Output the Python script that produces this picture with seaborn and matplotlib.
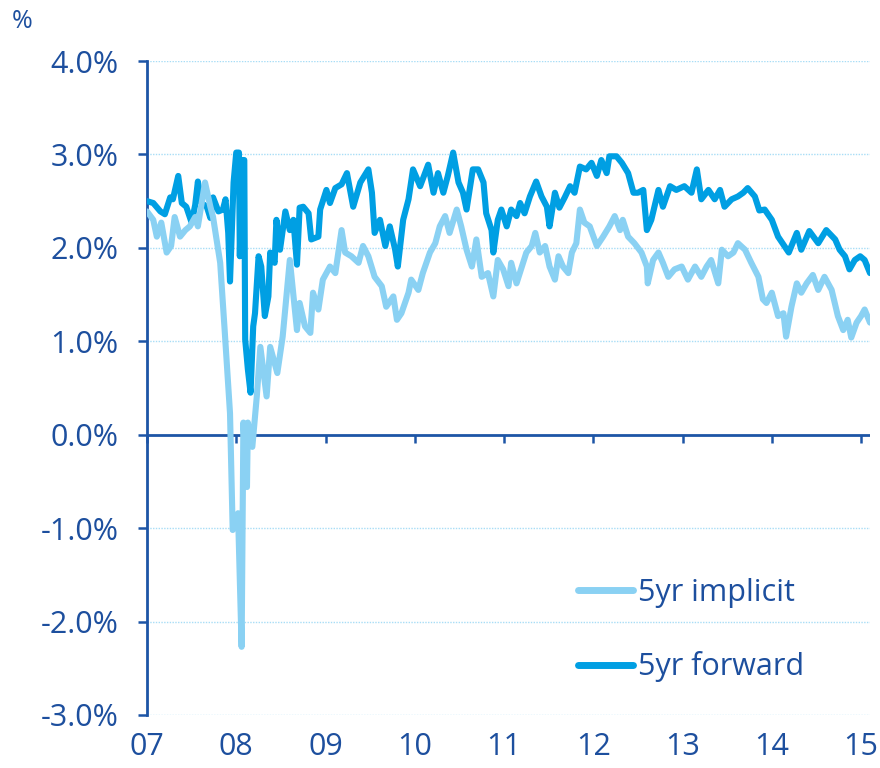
import matplotlib
matplotlib.use("Agg")
import matplotlib.pyplot as plt
import seaborn as sns
import pandas as pd

# ---- data (decimal years, percent) ----
fwd_t = [2007.00, 2007.07, 2007.15, 2007.20, 2007.26, 2007.29, 2007.35, 2007.39, 2007.44, 2007.50,
         2007.54, 2007.57, 2007.61, 2007.67, 2007.71, 2007.74, 2007.80, 2007.85, 2007.88, 2007.91,
         2007.93, 2007.97, 2008.00, 2008.03, 2008.04, 2008.06, 2008.09, 2008.10, 2008.13, 2008.16,
         2008.19, 2008.21, 2008.25, 2008.28, 2008.32, 2008.36, 2008.38, 2008.43, 2008.45, 2008.49,
         2008.55, 2008.60, 2008.64, 2008.68, 2008.71, 2008.75, 2008.81, 2008.84, 2008.92, 2008.94,
         2009.01, 2009.05, 2009.11, 2009.18, 2009.24, 2009.31, 2009.39, 2009.48, 2009.52, 2009.55,
         2009.61, 2009.67, 2009.72, 2009.78, 2009.81, 2009.87, 2009.93, 2009.98, 2010.06, 2010.15,
         2010.21, 2010.26, 2010.32, 2010.37, 2010.43, 2010.49, 2010.54, 2010.58, 2010.65, 2010.71,
         2010.77, 2010.80, 2010.86, 2010.88, 2010.93, 2010.97, 2011.03, 2011.08, 2011.14, 2011.18,
         2011.23, 2011.29, 2011.36, 2011.42, 2011.48, 2011.51, 2011.57, 2011.62, 2011.68, 2011.74,
         2011.79, 2011.85, 2011.92, 2011.98, 2012.04, 2012.09, 2012.15, 2012.18, 2012.26, 2012.32,
         2012.39, 2012.45, 2012.50, 2012.56, 2012.60, 2012.65, 2012.73, 2012.78, 2012.86, 2012.93,
         2013.02, 2013.10, 2013.16, 2013.21, 2013.29, 2013.36, 2013.42, 2013.47, 2013.55, 2013.62,
         2013.68, 2013.73, 2013.81, 2013.86, 2013.92, 2014.00, 2014.07, 2014.14, 2014.19, 2014.28,
         2014.33, 2014.42, 2014.52, 2014.61, 2014.71, 2014.76, 2014.82, 2014.87, 2014.93, 2014.99,
         2015.04, 2015.10]
fwd_v = [2.50, 2.48, 2.39, 2.36, 2.54, 2.52, 2.77, 2.48, 2.44, 2.27,
         2.46, 2.71, 2.48, 2.44, 2.32, 2.54, 2.39, 2.41, 2.52, 2.16,
         1.64, 2.70, 3.02, 3.02, 1.91, 2.94, 2.94, 1.02, 0.70, 0.45,
         1.16, 1.30, 1.91, 1.80, 1.27, 1.48, 1.95, 1.84, 2.30, 1.98,
         2.39, 2.19, 2.30, 1.82, 2.43, 2.44, 2.37, 2.09, 2.12, 2.41,
         2.62, 2.48, 2.64, 2.68, 2.80, 2.44, 2.70, 2.84, 2.59, 2.16,
         2.30, 2.02, 2.23, 1.98, 1.80, 2.30, 2.52, 2.84, 2.66, 2.89,
         2.59, 2.80, 2.59, 2.77, 3.02, 2.70, 2.59, 2.41, 2.84, 2.84,
         2.70, 2.37, 2.19, 1.95, 2.30, 2.41, 2.23, 2.41, 2.34, 2.48,
         2.37, 2.55, 2.71, 2.55, 2.44, 2.23, 2.59, 2.43, 2.54, 2.66,
         2.59, 2.87, 2.84, 2.91, 2.77, 2.94, 2.80, 2.98, 2.98, 2.91,
         2.80, 2.59, 2.59, 2.62, 2.19, 2.30, 2.62, 2.44, 2.66, 2.62,
         2.66, 2.59, 2.84, 2.52, 2.62, 2.52, 2.62, 2.44, 2.52, 2.55,
         2.59, 2.64, 2.55, 2.40, 2.41, 2.30, 2.12, 2.02, 1.95, 2.16,
         1.98, 2.18, 2.05, 2.19, 2.09, 1.98, 1.91, 1.77, 1.87, 1.91,
         1.87, 1.73]

imp_t = [2007.00, 2007.07, 2007.11, 2007.16, 2007.22, 2007.27, 2007.31, 2007.37, 2007.43, 2007.48,
         2007.54, 2007.57, 2007.65, 2007.71, 2007.74, 2007.82, 2007.87, 2007.93, 2007.96, 2008.02,
         2008.06, 2008.08, 2008.12, 2008.13, 2008.18, 2008.23, 2008.27, 2008.34, 2008.38, 2008.46,
         2008.52, 2008.60, 2008.68, 2008.71, 2008.77, 2008.83, 2008.86, 2008.92, 2008.97, 2009.05,
         2009.11, 2009.18, 2009.22, 2009.29, 2009.37, 2009.42, 2009.48, 2009.55, 2009.63, 2009.68,
         2009.76, 2009.80, 2009.85, 2009.93, 2009.96, 2010.04, 2010.09, 2010.17, 2010.23, 2010.28,
         2010.34, 2010.39, 2010.47, 2010.52, 2010.58, 2010.64, 2010.69, 2010.75, 2010.82, 2010.88,
         2010.93, 2010.99, 2011.05, 2011.08, 2011.14, 2011.20, 2011.25, 2011.31, 2011.35, 2011.40,
         2011.46, 2011.51, 2011.57, 2011.61, 2011.66, 2011.72, 2011.76, 2011.81, 2011.85, 2011.90,
         2011.96, 2012.04, 2012.11, 2012.18, 2012.24, 2012.30, 2012.33, 2012.39, 2012.46, 2012.54,
         2012.60, 2012.61, 2012.67, 2012.73, 2012.78, 2012.84, 2012.91, 2012.99, 2013.06, 2013.14,
         2013.21, 2013.27, 2013.32, 2013.40, 2013.44, 2013.51, 2013.57, 2013.62, 2013.70, 2013.77,
         2013.85, 2013.90, 2013.94, 2014.00, 2014.07, 2014.13, 2014.16, 2014.22, 2014.28, 2014.33,
         2014.39, 2014.46, 2014.52, 2014.59, 2014.67, 2014.74, 2014.80, 2014.85, 2014.89, 2014.95,
         2015.00, 2015.04, 2015.10]
imp_v = [2.39, 2.30, 2.12, 2.27, 1.95, 2.02, 2.33, 2.12, 2.19, 2.23,
         2.33, 2.23, 2.70, 2.44, 2.33, 1.84, 1.12, 0.23, -1.02, -0.84,
         -2.27, 0.13, -0.56, 0.13, -0.13, 0.41, 0.94, 0.41, 0.94, 0.66,
         1.05, 1.87, 1.12, 1.41, 1.16, 1.09, 1.52, 1.34, 1.66, 1.80,
         1.73, 2.19, 1.95, 1.91, 1.84, 2.02, 1.91, 1.69, 1.59, 1.37,
         1.48, 1.23, 1.30, 1.52, 1.66, 1.55, 1.73, 1.95, 2.05, 2.23,
         2.34, 2.16, 2.41, 2.23, 1.98, 1.80, 2.09, 1.69, 1.73, 1.48,
         1.87, 1.77, 1.59, 1.84, 1.62, 1.80, 1.95, 2.02, 2.16, 1.95,
         2.02, 1.80, 1.66, 1.91, 1.80, 1.73, 1.95, 2.05, 2.41, 2.27,
         2.23, 2.02, 2.12, 2.23, 2.34, 2.19, 2.30, 2.12, 2.05, 1.95,
         1.80, 1.62, 1.87, 1.95, 1.84, 1.69, 1.77, 1.80, 1.66, 1.80,
         1.69, 1.80, 1.87, 1.62, 1.98, 1.91, 1.95, 2.05, 1.98, 1.84,
         1.69, 1.45, 1.41, 1.52, 1.27, 1.30, 1.05, 1.37, 1.62, 1.52,
         1.62, 1.71, 1.55, 1.69, 1.55, 1.27, 1.12, 1.23, 1.04, 1.20,
         1.27, 1.34, 1.20]

years = [2007, 2008, 2009, 2010, 2011, 2012, 2013, 2014, 2015]
year_labels = ["07", "08", "09", "10", "11", "12", "13", "14", "15"]
y_ticks = [-3, -2, -1, 0, 1, 2, 3, 4]
series_names = ["5yr implicit", "5yr forward"]

# ---- style ----
sns.set_theme(style="white")
plt.rcParams["font.family"] = ["Open Sans", "DejaVu Sans"]
plt.rcParams["axes.unicode_minus"] = False

TEXT = "#1D4F9E"
AXIS = "#1D55A6"
DARK = "#009FE3"
LIGHT = "#8AD1F3"
GRID = "#A8DDF6"

fig = plt.figure(figsize=(8.8, 7.68), dpi=100)
ax = fig.add_axes([147 / 880, 1 - 715 / 768, (870 - 147) / 880, (715 - 61) / 768])

df_fwd = pd.DataFrame({"t": fwd_t, "v": fwd_v})
df_imp = pd.DataFrame({"t": imp_t, "v": imp_v})

# grid lines (dotted) except zero
for yv in y_ticks:
    if yv != 0:
        ax.axhline(yv, color=GRID, lw=1.0, ls=(0, (1, 1)), zorder=0)
ax.axhline(0, color=AXIS, lw=2.0, zorder=1)

sns.lineplot(data=df_fwd, x="t", y="v", ax=ax, color=DARK, lw=4.4,
             estimator=None, sort=False, label=series_names[1], zorder=3)
sns.lineplot(data=df_imp, x="t", y="v", ax=ax, color=LIGHT, lw=4.4,
             estimator=None, sort=False, label=series_names[0], zorder=4)

ax.set_xlim(2007, 2015.1)
ax.set_ylim(-3, 4)
ax.set_xlabel("")
ax.set_ylabel("")

ax.set_yticks(y_ticks)
ax.set_yticklabels([f"{v:.1f}%" for v in y_ticks])
ax.set_xticks(years)
ax.set_xticklabels(year_labels)

for s in ["top", "right", "bottom"]:
    ax.spines[s].set_visible(False)
ax.spines["left"].set_color(AXIS)
ax.spines["left"].set_linewidth(2.0)

ax.tick_params(axis="y", direction="out", length=6.5, width=1.8, color=AXIS,
               pad=14, labelsize=22, labelcolor=TEXT, left=True)
ax.tick_params(axis="x", length=0, pad=12, labelsize=22, labelcolor=TEXT)

# year ticks on the zero line
sec = ax.secondary_xaxis(3 / 7)
sec.set_xticks(years)
sec.set_xticklabels([])
sec.spines["bottom"].set_visible(False)
sec.tick_params(axis="x", direction="out", length=6, width=1.8, color=AXIS)

# legend
h, l = ax.get_legend_handles_labels()
order = [l.index(series_names[0]), l.index(series_names[1])]
leg = ax.legend([h[i] for i in order], [l[i] for i in order],
                loc="upper left", bbox_to_anchor=(578 / 880, 1 - 578 / 768),
                bbox_transform=fig.transFigure, frameon=False, fontsize=22,
                handlelength=1.8, handletextpad=0.15, labelspacing=1.42,
                borderpad=0, borderaxespad=0)
for t in leg.get_texts():
    t.set_color(TEXT)
for ln in leg.get_lines():
    ln.set_linewidth(5)

fig.text(12 / 880, 1 - 21 / 768, "%", fontsize=18, color=TEXT, va="center", ha="left")

fig.savefig("out.png", dpi=100)
